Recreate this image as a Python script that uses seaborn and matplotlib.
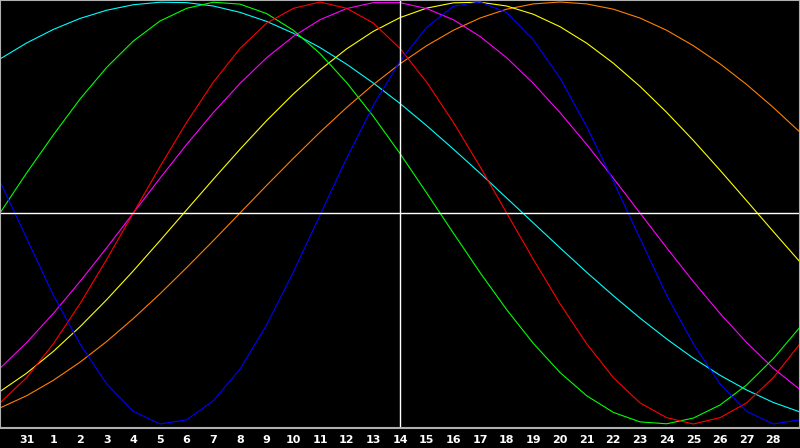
import matplotlib
matplotlib.use("Agg")
import matplotlib.pyplot as plt
import seaborn as sns
import pandas as pd

# day index 0..30 (0 = 30th of previous month)
day_index = list(range(31))
tick_positions = list(range(1, 30))
tick_labels = ["31"] + [str(d) for d in range(1, 29)]

blue = [0.15, -0.12, -0.39, -0.62, -0.81, -0.94, -1.00, -0.98, -0.89, -0.74, -0.53,
        -0.28, -0.01, 0.26, 0.51, 0.72, 0.88, 0.98, 1.00, 0.95, 0.82,
        0.64, 0.41, 0.15, -0.12, -0.39, -0.62, -0.81, -0.94, -1.00, -0.98]
red = [-0.90, -0.78, -0.62, -0.43, -0.22, 0.00, 0.22, 0.43, 0.62, 0.78, 0.90,
       0.97, 1.00, 0.97, 0.90, 0.78, 0.62, 0.43, 0.22, 0.00, -0.22,
       -0.43, -0.62, -0.78, -0.90, -0.97, -1.00, -0.97, -0.90, -0.78, -0.62]
green = [0.00, 0.19, 0.37, 0.54, 0.69, 0.815, 0.91, 0.97, 0.999, 0.99, 0.945,
         0.866, 0.756, 0.618, 0.458, 0.282, 0.095, -0.095, -0.282, -0.458, -0.618,
         -0.756, -0.866, -0.945, -0.99, -0.999, -0.972, -0.91, -0.815, -0.69, -0.541]
magenta = [-0.736, -0.614, -0.476, -0.325, -0.165, 0.00, 0.165, 0.325, 0.476, 0.614, 0.736,
           0.837, 0.916, 0.969, 0.997, 0.997, 0.969, 0.916, 0.837, 0.736, 0.614,
           0.476, 0.325, 0.165, 0.00, -0.165, -0.325, -0.476, -0.614, -0.736, -0.837]
yellow = [-0.846, -0.759, -0.656, -0.539, -0.411, -0.274, -0.131, 0.015, 0.160, 0.302, 0.438,
          0.564, 0.678, 0.778, 0.861, 0.926, 0.971, 0.996, 0.999, 0.981, 0.942,
          0.883, 0.805, 0.710, 0.600, 0.477, 0.344, 0.203, 0.058, -0.088, -0.232]
orange = [-0.924, -0.866, -0.793, -0.707, -0.609, -0.500, -0.383, -0.259, -0.131, 0.00, 0.131,
          0.259, 0.383, 0.500, 0.609, 0.707, 0.793, 0.866, 0.924, 0.966, 0.991,
          1.000, 0.991, 0.966, 0.924, 0.866, 0.793, 0.707, 0.609, 0.500, 0.383]
cyan = [0.730, 0.806, 0.870, 0.922, 0.961, 0.987, 0.999, 0.997, 0.981, 0.951, 0.908,
        0.852, 0.784, 0.705, 0.616, 0.519, 0.414, 0.303, 0.189, 0.071, -0.047,
        -0.165, -0.281, -0.392, -0.498, -0.597, -0.688, -0.769, -0.839, -0.898, -0.943]

series = [
    (cyan, "#00ffff"),
    (orange, "#ff8000"),
    (yellow, "#ffff00"),
    (magenta, "#ff00ff"),
    (green, "#00ff00"),
    (red, "#ff0000"),
    (blue, "#0000ff"),
]

sns.set_style("dark")
plt.rcParams['font.family'] = ['DejaVu Sans']

fig = plt.figure(figsize=(8, 4.48), dpi=100, facecolor="black")
ax = fig.add_axes([0, 20 / 448, 1, 428 / 448])
ax.set_facecolor("black")

for vals, col in series:
    df = pd.DataFrame({"day": day_index, "v": vals})
    sns.lineplot(data=df, x="day", y="v", color=col, linewidth=0.8, ax=ax, sort=False)

ax.axhline(0, color="white", linewidth=1.0)
ax.axvline(15, color="white", linewidth=1.0)

ax.set_xlim(0, 30)
ax.set_ylim(-1.019, 1.0095)
ax.set_xticks(tick_positions)
ax.set_xticklabels(tick_labels, color="white", fontsize=8, fontweight="bold")
ax.set_yticks([])
ax.tick_params(axis="x", direction="in", length=5, width=1, color="white", pad=5)
ax.set_xlabel("")
ax.set_ylabel("")
ax.grid(False)
for sp in ax.spines.values():
    sp.set_visible(True)
    sp.set_color("#b0b0b0")
    sp.set_linewidth(1.5)

fig.savefig("out.png", dpi=100, facecolor="black")
